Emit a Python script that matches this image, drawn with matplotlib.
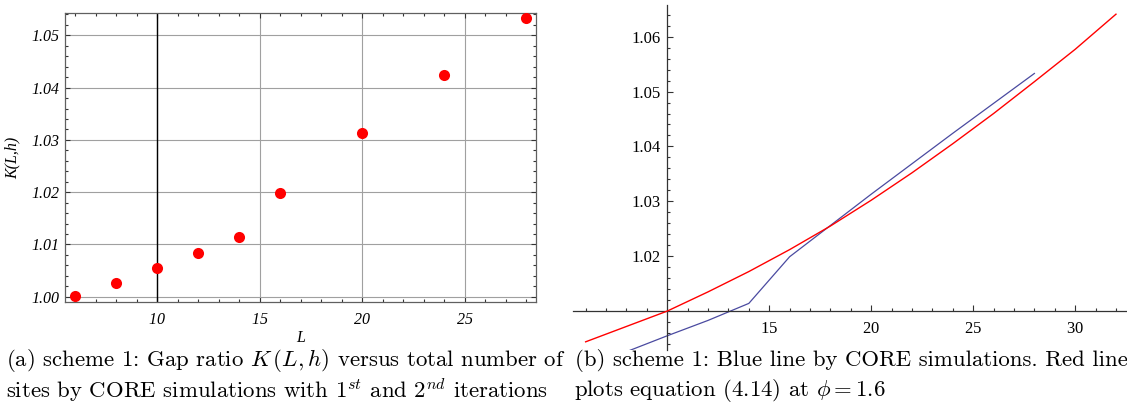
import matplotlib
matplotlib.use('Agg')
import matplotlib.pyplot as plt
from matplotlib.ticker import FixedLocator

plt.rcParams['mathtext.fontset'] = 'cm'
plt.rcParams['axes.formatter.use_mathtext'] = True

# CORE simulation points (both panels)
L = [6, 8, 10, 12, 14, 16, 20, 24, 28]
K = [1.0002, 1.0026, 1.0055, 1.0083, 1.0114, 1.0199, 1.0313, 1.0424, 1.0533]

# red curve, eq. (4.14) at phi = 1.6
red_L = [6, 8, 10, 12, 14, 16, 18, 20, 22, 24, 26, 28, 30, 32]
red_K = [1.0044, 1.0072, 1.0100, 1.0135, 1.0172, 1.0212, 1.0255, 1.0302,
         1.0352, 1.0405, 1.0460, 1.0518, 1.0577, 1.0641]

left_xticks = [10, 15, 20, 25]
left_yticks = [1.00, 1.01, 1.02, 1.03, 1.04, 1.05]
right_xticks = [15, 20, 25, 30]
right_yticks = [1.02, 1.03, 1.04, 1.05, 1.06]

W, H = 1127, 412
fig = plt.figure(figsize=(W / 100, H / 100), dpi=100)

# ---- panel (a): framed scatter ----
ax1 = fig.add_axes([65 / W, (H - 302.3) / H, 470.7 / W, 289 / H])
ax1.set_xlim(5.5, 28.45)
ax1.set_ylim(0.99893, 1.05421)
ax1.grid(True, color='#a0a0a0', lw=0.8)
ax1.set_axisbelow(True)
ax1.axvline(10, color='black', lw=1.0, zorder=2.5)
ax1.plot(L, K, 'o', color='red', ms=8, mec='none', zorder=3)
ax1.set_xticks(left_xticks)
ax1.set_yticks(left_yticks)
ax1.set_yticklabels(['%.2f' % v for v in left_yticks])
ax1.xaxis.set_minor_locator(FixedLocator([v for v in range(6, 29)]))
ax1.yaxis.set_minor_locator(FixedLocator([1.0 + 0.002 * i for i in range(28)]))
ax1.tick_params(which='both', direction='in', top=True, right=True,
                color='#333333', width=0.8)
ax1.tick_params(which='major', length=3.5)
ax1.tick_params(which='minor', length=2)
ax1.tick_params(axis='x', pad=7)
ax1.tick_params(axis='y', pad=4)
for lab in ax1.get_xticklabels() + ax1.get_yticklabels():
    lab.set_family('Liberation Serif')
    lab.set_style('italic')
    lab.set_fontsize(11.5)
for s in ax1.spines.values():
    s.set_color('#606060')
    s.set_linewidth(0.9)
ax1.set_xlabel('L', family='Liberation Serif', style='italic', fontsize=11.5,
               labelpad=1.5)
ax1.set_ylabel('K(L,h)', family='Liberation Serif', style='italic',
               fontsize=11.5, labelpad=8)

# ---- panel (b): crossing axes ----
ax2 = fig.add_axes([573 / W, (H - 349.5) / H, 554 / W, 344.1 / H])
ax2.set_xlim(5.38, 32.54)
ax2.set_ylim(1.0030, 1.0657)
ax2.plot(red_L, red_K, color='red', lw=1.0, zorder=3)
ax2.plot(L, K, color='#4a4aa0', lw=0.9, zorder=2)
ax2.spines['top'].set_visible(False)
ax2.spines['right'].set_visible(False)
ax2.spines['left'].set_position(('data', 10))
ax2.spines['bottom'].set_position(('data', 1.01))
for s in ('left', 'bottom'):
    ax2.spines[s].set_color('#333333')
    ax2.spines[s].set_linewidth(0.9)
ax2.set_xticks(right_xticks)
ax2.set_yticks(right_yticks)
ax2.set_yticklabels(['%.2f' % v for v in right_yticks])
ax2.xaxis.set_minor_locator(FixedLocator(
    [v for v in range(6, 33) if v not in right_xticks and v != 10]))
ax2.yaxis.set_minor_locator(FixedLocator(
    [round(1.004 + 0.002 * i, 3) for i in range(31)
     if round(1.004 + 0.002 * i, 3) not in right_yticks + [1.01]]))
ax2.tick_params(which='both', direction='in', color='#333333', width=0.8)
ax2.tick_params(which='major', length=4.3)
ax2.tick_params(which='minor', length=2.4)
ax2.tick_params(axis='x', pad=7)
ax2.tick_params(axis='y', pad=5)
for lab in ax2.get_xticklabels() + ax2.get_yticklabels():
    lab.set_family('Liberation Serif')
    lab.set_fontsize(12)

# ---- captions ----
cap = dict(family='cmr10', fontsize=16.4, va='center', ha='left')
fig.text(6 / W, 1 - 361 / H,
         r'(a) scheme 1: Gap ratio $K\,(L,h)$ versus total number of', **cap)
fig.text(6 / W, 1 - 390 / H,
         r'sites by CORE simulations with $1^{st}$ and $2^{nd}$ iterations', **cap)
fig.text(575 / W, 1 - 361 / H,
         r'(b) scheme 1: Blue line by CORE simulations. Red line', **cap)
fig.text(574 / W, 1 - 390 / H,
         r'plots equation $(4.14)$ at $\phi = 1.6$', **cap)

fig.savefig('out.png', dpi=100)
